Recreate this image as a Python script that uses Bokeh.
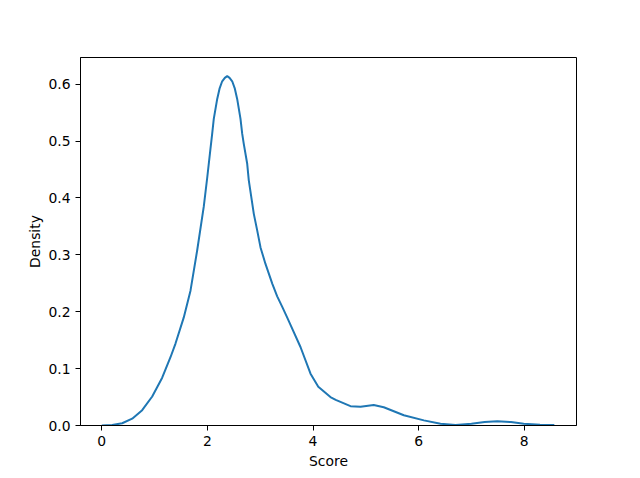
from bokeh.plotting import figure
from bokeh.models import Range1d, FixedTicker, PrintfTickFormatter
from bokeh.embed import file_html
from bokeh.resources import INLINE

# KDE curve
score = [0.0, 0.197, 0.386, 0.576, 0.765, 0.955, 1.144, 1.301, 1.396, 1.553,
         1.680, 1.807, 1.932, 1.996, 2.059, 2.091, 2.121, 2.186, 2.230, 2.280,
         2.330, 2.375, 2.420, 2.470, 2.520, 2.564, 2.627, 2.659, 2.689, 2.754,
         2.784, 2.879, 2.943, 3.006, 3.100, 3.230, 3.322, 3.420, 3.510, 3.574,
         3.763, 3.953, 4.100, 4.330, 4.430, 4.710, 4.900, 5.150, 5.340, 5.720,
         6.100, 6.415, 6.700, 7.000, 7.250, 7.490, 7.750, 7.990, 8.300, 8.570]
density = [0.0, 0.001, 0.004, 0.012, 0.027, 0.051, 0.084, 0.120, 0.144, 0.190,
           0.237, 0.308, 0.385, 0.435, 0.487, 0.513, 0.539, 0.574, 0.592, 0.605,
           0.611, 0.614, 0.611, 0.605, 0.592, 0.574, 0.539, 0.513, 0.495, 0.460,
           0.431, 0.372, 0.343, 0.313, 0.284, 0.249, 0.227, 0.208, 0.190, 0.177,
           0.138, 0.091, 0.068, 0.050, 0.045, 0.034, 0.033, 0.036, 0.032, 0.018,
           0.009, 0.003, 0.001, 0.003, 0.006, 0.0075, 0.006, 0.003, 0.0015, 0.001]

x_ticks = [0, 2, 4, 6, 8]
y_ticks = [0.0, 0.1, 0.2, 0.3, 0.4, 0.5, 0.6]

p = figure(output_backend="svg", toolbar_location=None,
           frame_width=496, frame_height=368,
           min_border_left=80, min_border_right=60,
           min_border_top=57, min_border_bottom=50,
           x_range=Range1d(-0.403, 8.99), y_range=Range1d(0, 0.6468))

p.line(score, density, line_color="#1f77b4", line_width=2, line_join="round")

p.background_fill_color = "white"
p.border_fill_color = "white"
p.outline_line_color = "black"
p.outline_line_width = 1
p.xgrid.visible = False
p.ygrid.visible = False

font = "DejaVu Sans"
for ax in (p.xaxis[0], p.yaxis[0]):
    ax.axis_line_color = "black"
    ax.major_tick_line_color = "black"
    ax.major_tick_in = 0
    ax.major_tick_out = 5
    ax.minor_tick_line_color = None
    ax.major_label_text_font = font
    ax.major_label_text_font_size = "13.9px"
    ax.major_label_text_color = "black"
    ax.axis_label_text_font = font
    ax.axis_label_text_font_size = "13.9px"
    ax.axis_label_text_font_style = "normal"
    ax.axis_label_text_color = "black"
    ax.major_label_standoff = 5

p.xaxis.axis_label_standoff = 4
p.yaxis.axis_label_standoff = 2
p.xaxis.ticker = FixedTicker(ticks=x_ticks)
p.yaxis.ticker = FixedTicker(ticks=y_ticks)
p.yaxis.formatter = PrintfTickFormatter(format="%.1f")
p.xaxis.axis_label = "Score"
p.yaxis.axis_label = "Density"

open("out.html", "w").write(file_html(p, INLINE))
